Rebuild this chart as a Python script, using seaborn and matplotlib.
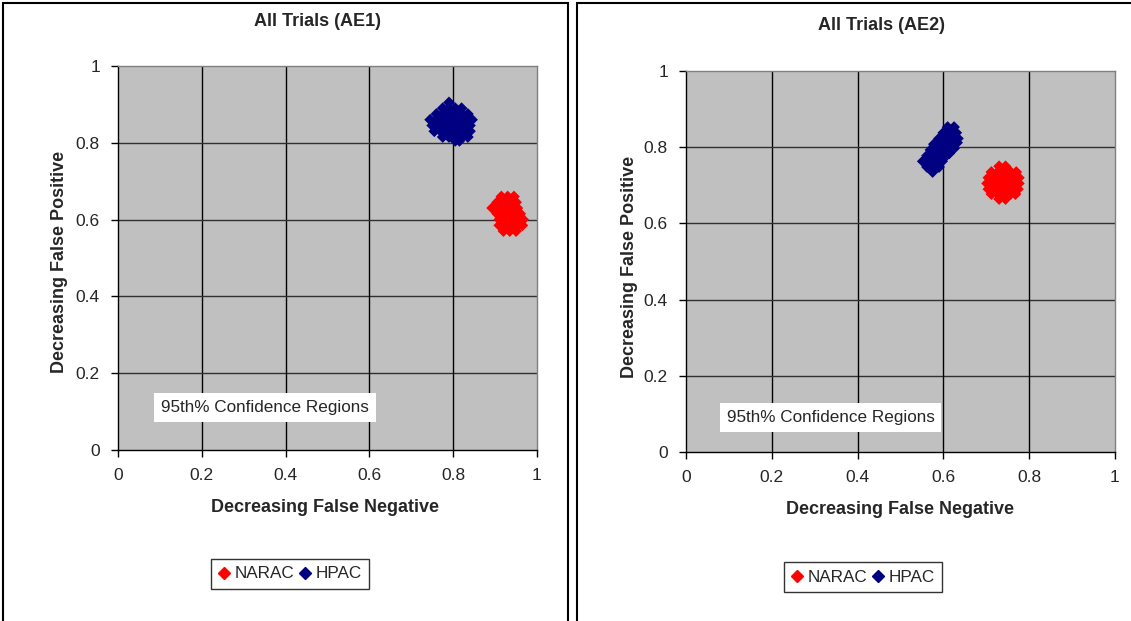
import numpy as np
import pandas as pd
import matplotlib
matplotlib.use("Agg")
import matplotlib.pyplot as plt
from matplotlib.lines import Line2D
from matplotlib.patches import Rectangle
import seaborn as sns

# points (cluster shapes)
ae1_hpac = [
    (0.79, 0.905),
    (0.775, 0.89), (0.79, 0.89), (0.805, 0.89), (0.82, 0.89),
    (0.76, 0.875), (0.775, 0.875), (0.79, 0.875), (0.805, 0.875), (0.82, 0.875), (0.835, 0.875),
    (0.745, 0.86), (0.76, 0.86), (0.775, 0.86), (0.79, 0.86), (0.805, 0.86), (0.82, 0.86), (0.835, 0.86), (0.845, 0.86),
    (0.75, 0.845), (0.765, 0.845), (0.78, 0.845), (0.795, 0.845), (0.81, 0.845), (0.825, 0.845), (0.84, 0.845),
    (0.755, 0.83), (0.77, 0.83), (0.785, 0.83), (0.80, 0.83), (0.815, 0.83), (0.83, 0.83), (0.84, 0.83),
    (0.775, 0.815), (0.79, 0.815), (0.805, 0.815), (0.82, 0.815), (0.835, 0.815),
    (0.805, 0.805), (0.815, 0.805),
]
ae1_narac = [
    (0.915, 0.66), (0.93, 0.66), (0.945, 0.66),
    (0.905, 0.645), (0.92, 0.645), (0.935, 0.645), (0.95, 0.645),
    (0.893, 0.63), (0.908, 0.63), (0.923, 0.63), (0.938, 0.63), (0.953, 0.63),
    (0.905, 0.615), (0.92, 0.615), (0.935, 0.615), (0.95, 0.615), (0.96, 0.615),
    (0.91, 0.60), (0.925, 0.60), (0.94, 0.60), (0.955, 0.60), (0.967, 0.60),
    (0.91, 0.585), (0.925, 0.585), (0.94, 0.585), (0.955, 0.585), (0.965, 0.585),
    (0.92, 0.57), (0.935, 0.57), (0.95, 0.57),
]
ae2_hpac = [
    (0.61, 0.853), (0.625, 0.853),
    (0.60, 0.838), (0.615, 0.838), (0.63, 0.838),
    (0.59, 0.823), (0.605, 0.823), (0.62, 0.823), (0.634, 0.823),
    (0.578, 0.808), (0.593, 0.808), (0.608, 0.808), (0.623, 0.808), (0.632, 0.812),
    (0.57, 0.793), (0.585, 0.793), (0.60, 0.793), (0.615, 0.793), (0.625, 0.797),
    (0.562, 0.778), (0.577, 0.778), (0.592, 0.778), (0.607, 0.778), (0.614, 0.784),
    (0.552, 0.763), (0.567, 0.763), (0.582, 0.763), (0.597, 0.763),
    (0.562, 0.748), (0.577, 0.748), (0.59, 0.748),
    (0.575, 0.735),
]
ae2_narac = [
    (0.73, 0.75), (0.745, 0.75),
    (0.712, 0.735), (0.727, 0.735), (0.742, 0.735), (0.757, 0.735), (0.77, 0.735),
    (0.705, 0.72), (0.72, 0.72), (0.735, 0.72), (0.75, 0.72), (0.765, 0.72), (0.776, 0.72),
    (0.702, 0.705), (0.717, 0.705), (0.732, 0.705), (0.747, 0.705), (0.762, 0.705), (0.776, 0.705),
    (0.705, 0.69), (0.72, 0.69), (0.735, 0.69), (0.75, 0.69), (0.765, 0.69), (0.774, 0.69),
    (0.712, 0.677), (0.727, 0.677), (0.742, 0.677), (0.757, 0.677), (0.768, 0.677),
    (0.73, 0.664), (0.745, 0.664),
]

titles = ["All Trials (AE1)", "All Trials (AE2)"]
xlabel = "Decreasing False Negative"
ylabel = "Decreasing False Positive"
note = "95th% Confidence Regions"
ticks = [0, 0.2, 0.4, 0.6, 0.8, 1]
colors = {"NARAC": "#FF0000", "HPAC": "#000080"}


def make_df(narac, hpac):
    rows = [(x, y, "NARAC") for x, y in narac] + [(x, y, "HPAC") for x, y in hpac]
    return pd.DataFrame(rows, columns=["fn", "fp", "model"])


sns.set_style("white")
plt.rcParams["font.family"] = ["Liberation Sans", "DejaVu Sans"]

fig = plt.figure(figsize=(11.31, 6.21), dpi=100)

panels = [
    dict(df=make_df(ae1_narac, ae1_hpac), pos=[0.1043, 0.2754, 0.3705, 0.6184],
         title_xy=(317, 22), xl_xy=(325, 508), yl_xy=(60, 262), note_xy=(0.35, 0.11),
         leg_xy=(290, 574), title=titles[0]),
    dict(df=make_df(ae2_narac, ae2_hpac), pos=[0.6065, 0.2721, 0.3793, 0.6135],
         title_xy=(882, 25), xl_xy=(900, 510), yl_xy=(630, 267), note_xy=(0.337, 0.09),
         leg_xy=(863, 577), title=titles[1]),
]

W, H = 1131, 621

for p in panels:
    ax = fig.add_axes(p["pos"])
    ax.set_facecolor("#C0C0C0")
    sns.scatterplot(data=p["df"], x="fn", y="fp", hue="model", palette=colors,
                    marker="D", s=36, linewidth=0, legend=False, ax=ax, zorder=3)
    ax.set_xlim(0, 1)
    ax.set_ylim(0, 1)
    ax.set_xticks(ticks)
    ax.set_yticks(ticks)
    ax.set_xticklabels([f"{t:g}" for t in ticks])
    ax.set_yticklabels([f"{t:g}" for t in ticks])
    ax.tick_params(direction="out", length=5, width=1, color="black",
                   labelsize=12.5, pad=8, bottom=True, left=True)
    ax.set_xlabel("")
    ax.set_ylabel("")
    for t in ticks[1:-1]:
        ax.axvline(t, color="black", lw=1, zorder=1)
        ax.axhline(t, color="#303030", lw=1, zorder=1)
    ax.spines["left"].set_color("black")
    ax.spines["bottom"].set_color("black")
    ax.spines["top"].set_color("#808080")
    ax.spines["right"].set_color("#808080")
    for s in ax.spines.values():
        s.set_linewidth(1)
    ax.text(p["note_xy"][0], p["note_xy"][1], note, fontsize=12.3, ha="center", va="center",
            bbox=dict(facecolor="white", edgecolor="none", pad=5), zorder=4)

    fig.text(p["title_xy"][0] / W, 1 - p["title_xy"][1] / H, p["title"],
             fontsize=13, fontweight="bold", ha="center", va="center")
    fig.text(p["xl_xy"][0] / W, 1 - p["xl_xy"][1] / H, xlabel,
             fontsize=13, fontweight="bold", ha="center", va="center")
    fig.text(p["yl_xy"][0] / W, 1 - p["yl_xy"][1] / H, ylabel,
             fontsize=13, fontweight="bold", ha="center", va="center", rotation=90)

    handles = [Line2D([], [], marker="D", color=colors[k], linestyle="none", markersize=6.5)
               for k in ["NARAC", "HPAC"]]
    leg = fig.legend(handles, ["NARAC", "HPAC"], loc="center",
                     bbox_to_anchor=(p["leg_xy"][0] / W, 1 - p["leg_xy"][1] / H),
                     ncol=2, fontsize=12.3, frameon=True, fancybox=False,
                     handlelength=0.7, handletextpad=0.25, columnspacing=0.3,
                     borderpad=0.45, borderaxespad=0, edgecolor="black")
    leg.get_frame().set_linewidth(1)

# outer chart frames
fig.add_artist(Rectangle((3 / W, -0.01), 565 / W, 1.01 - 3 / H, transform=fig.transFigure,
                         fill=False, edgecolor="black", lw=1.5))
fig.add_artist(Rectangle((577 / W, -0.01), 0.6, 1.01 - 3 / H, transform=fig.transFigure,
                         fill=False, edgecolor="black", lw=1.5))

fig.savefig("out.png", dpi=100)
